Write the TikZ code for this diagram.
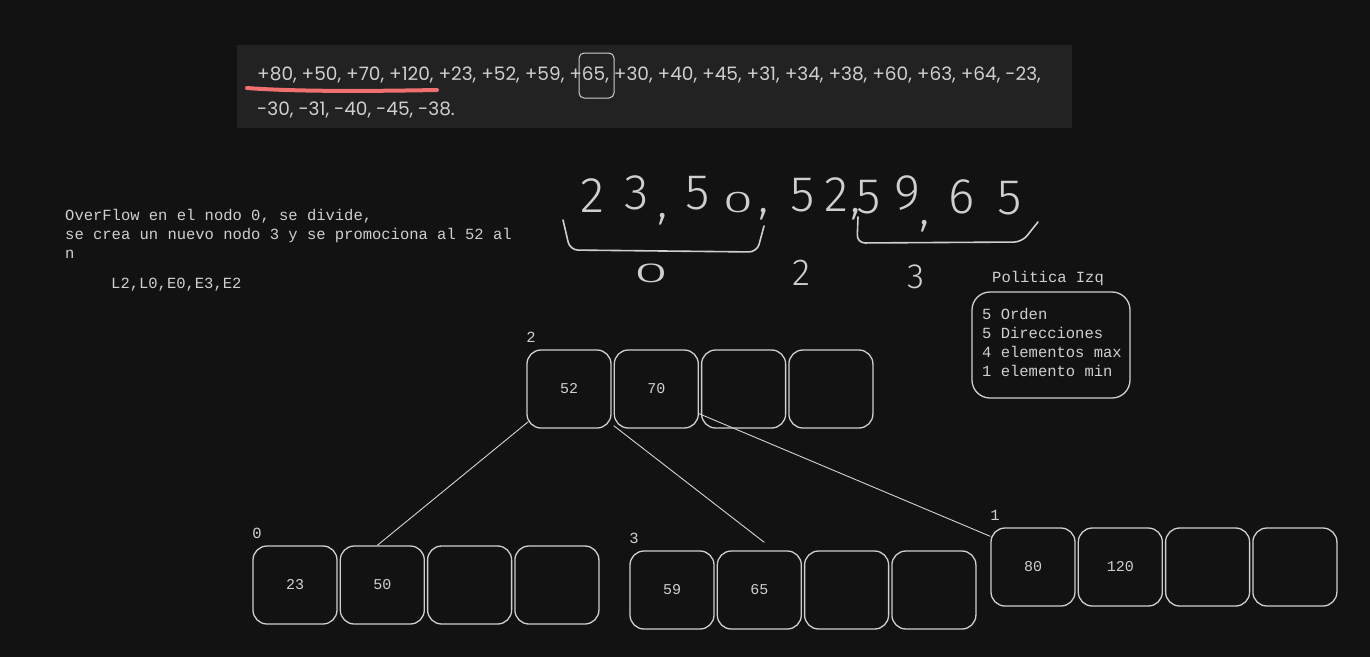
\documentclass[tikz,border=0pt]{standalone}
\usepackage{fontspec}
\setmonofont{Liberation Mono}
\newfontfamily\shotfont{Poppins}
\newfontfamily\penfont{Fira Sans}[UprightFont={* Light}]
\usetikzlibrary{positioning}
\definecolor{bg}{HTML}{121212}
\definecolor{panel}{HTML}{222222}
\definecolor{ink}{HTML}{CFCFCF}
\definecolor{marker}{HTML}{F07070}
\tikzset{
  cell/.style={draw=ink,line width=1.3pt,rounded corners=14pt,minimum width=84pt,minimum height=78pt,inner sep=0pt,text=ink,font=\ttfamily\fontsize{15}{19}\selectfont},
  lbl/.style={text=ink,inner sep=0pt,font=\ttfamily\fontsize{15.5}{19}\selectfont},
  hand/.style={text=ink,inner sep=0pt,font=\penfont\fontsize{50}{50}\selectfont},
  seq/.style={text=ink,anchor=west,inner sep=0pt,font=\shotfont\fontsize{18.5}{19}\selectfont},
  link/.style={draw=ink!90,line width=0.9pt}
}
\begin{document}
\begin{tikzpicture}[x=1pt,y=-1pt]
\fill[bg] (0,0) rectangle (1370,657);
\fill[panel] (237,45) rectangle (1072,128);
\node[seq] (seq1) at (257,75) {+80, +50, +70, +120, +23, +52, +59, +65, +30, +40, +45, +31, +34, +38, +60, +63, +64, -23,};
\node[seq] (seq2) at (257,110) {-30, -31, -40, -45, -38.};
\draw[marker,line width=4pt,line cap=round] (247,88) .. controls (300,92) and (380,91) .. (437,90);
\draw[ink,line width=1pt,rounded corners=5pt] (579,53) rectangle (614,98);

\foreach \x/\y/\c in {592/196/2, 637/193/3, 663/219/{,}, 698/193/5, 764/214/{,},
                      803/195/5, 836/195/2, 856/214/{,}, 869/197/5, 907/193/9, 925/226/{,},
                      962/197/6, 1010/198/5}
  \node[hand] at (\x,\y) {\c};
\node[hand,xscale=1.1,yscale=0.6] (h0top) at (738,203) {0};
\draw[ink,line width=1.6pt,line cap=round,rounded corners=8pt] (563,220) -- (570,250) -- (757,252) -- (764,226);
\draw[ink,line width=1.6pt,line cap=round,rounded corners=8pt] (858,217) -- (857,243) -- (1022,242) -- (1038,222);
\node[hand,xscale=1.25,yscale=0.55] (h0) at (651,273) {0};
\node[hand,scale=0.75] (h2) at (801,273) {2};
\node[hand,scale=0.7] (h3) at (916,277) {3};

\node[lbl,anchor=north west,align=left] (msg) at (65,209) {OverFlow en el nodo 0, se divide,\\se crea un nuevo nodo 3 y se promociona al 52 al\\n};
\node[lbl,anchor=west] (ops) at (111,285) {L2,L0,E0,E3,E2};

\node[cell,rounded corners=18pt,minimum width=158pt,minimum height=106pt] (pol) at (1051,345) {};
\node[lbl,align=left,anchor=west] (poltext) at (982,342) {5 Orden\\5 Direcciones\\4 elementos max\\1 elemento min};
\node[lbl] (poltitle) at (1048,278) {Politica Izq};

\foreach \n/\x/\y/\a/\b in {2/527/350/52/70, 0/253/546/23/50, 3/630/551/59/65, 1/991/528/80/120} {
  \node[lbl] at (\x+4,\y-13) {\n};
  \node[cell] (p\n c1) at (\x+42,\y+39) {\a};
  \node[cell,right=2pt of p\n c1] (p\n c2) {\b};
  \node[cell,right=2pt of p\n c2] (p\n c3) {};
  \node[cell,right=2pt of p\n c3] (p\n c4) {};
}
\draw[link] ([shift={(2pt,7pt)}]p2c1.south west) -- ([xshift=-5pt]p0c2.north);
\draw[link] ([yshift=3pt]p2c2.south west) -- ([shift={(5pt,8pt)}]p3c2.north);
\draw[link] ([yshift=15pt]p2c2.south east) -- ([yshift=-9pt]p1c1.north west);
\end{tikzpicture}
\end{document}
